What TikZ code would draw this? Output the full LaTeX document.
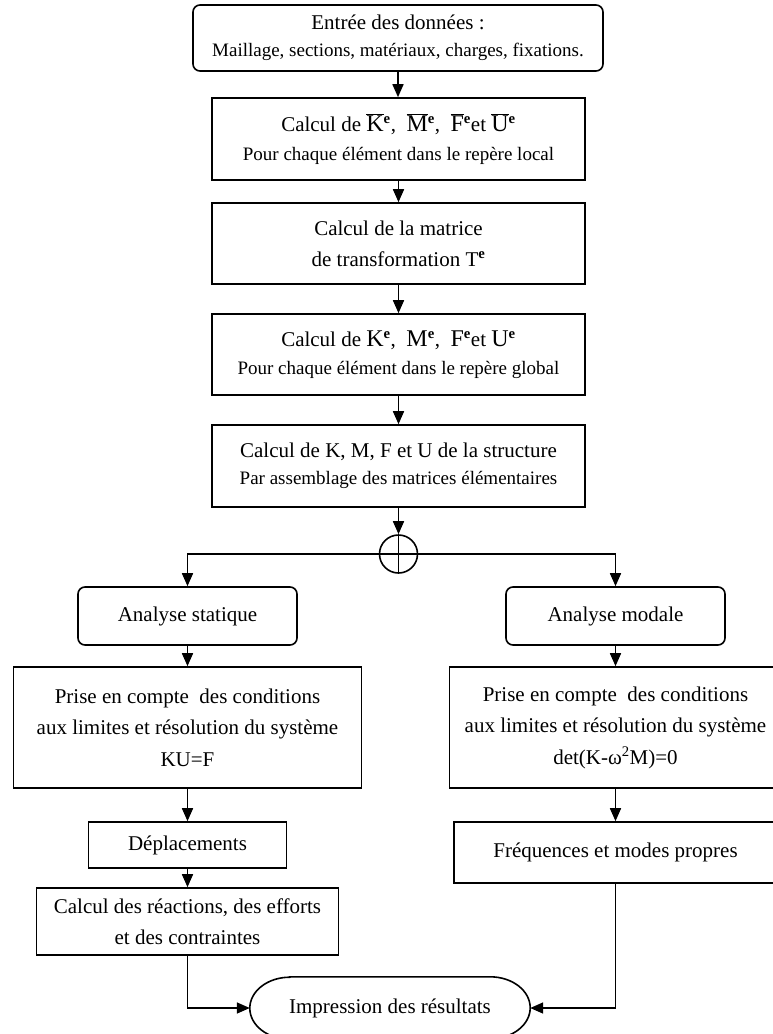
\documentclass[tikz,border=0pt]{standalone}
\usepackage{fontspec}
\setmainfont{Liberation Serif}
\usetikzlibrary{arrows.meta}
\newcommand\ovl[1]{\ensuremath{\overline{\mbox{#1}}}}
\newcommand\smtxt{\fontsize{19}{27}\selectfont}
\newcommand\bigltr{\fontsize{24}{29}\selectfont}
\newcommand\expo{\textsuperscript{\textbf{e}}}
\begin{document}
\begin{tikzpicture}[x=1pt,y=-1pt,
  box/.style={draw, line width=1.6pt, inner sep=0pt, align=center, font=\fontsize{21}{29}\selectfont},
  rbox/.style={box, rounded corners=7pt},
  arr/.style={-{Triangle[length=13pt,width=11pt]}, line width=1.6pt},
  ln/.style={line width=1.6pt}]
\useasboundingbox (0,0) rectangle (773,1034);
\fill[white] (0,0) rectangle (773,1034);

% main column
\node[rbox, minimum width=410pt, minimum height=66pt, font=\fontsize{21}{27}\selectfont] (b1) at (398,38)
  {Entrée des données :\\{\smtxt Maillage, sections, matériaux, charges, fixations.}};
\node[box, minimum width=373pt, minimum height=82pt] (b2) at (398.5,139)
  {Calcul de {\bigltr\ovl{K}}\expo,\ \ {\bigltr\ovl{M}}\expo,\ \ {\bigltr\ovl{F}}\expo et {\bigltr\ovl{U}}\expo\\{\smtxt Pour chaque élément dans le repère local}};
\node[box, minimum width=373pt, minimum height=81pt, font=\fontsize{21}{31}\selectfont] (b3) at (398.5,243.5)
  {Calcul de la matrice\\de transformation T\expo};
\node[box, minimum width=373pt, minimum height=81pt, font=\fontsize{21}{28}\selectfont] (b4) at (398.5,354.5)
  {Calcul de {\bigltr K}\expo,\ \ {\bigltr M}\expo,\ \ {\bigltr F}\expo et {\bigltr U}\expo\\{\smtxt Pour chaque élément dans le repère global}};
\node[box, minimum width=373pt, minimum height=82pt, font=\fontsize{21}{27}\selectfont] (b5) at (398.5,466)
  {Calcul de K, M, F et U de la structure\\{\smtxt Par assemblage des matrices élémentaires}};
\node[draw, circle, line width=1.6pt, minimum size=38pt, inner sep=0pt] (c) at (398.5,554) {};
\draw[ln] (c.north) -- (c.south);
\draw[ln] (c.west) -- (c.east);

% branches
\node[rbox, minimum width=219pt, minimum height=58pt] (as) at (187.5,616) {Analyse statique};
\node[rbox, minimum width=219pt, minimum height=58pt] (am) at (615.5,616) {Analyse modale};
\node[box, minimum width=348pt, minimum height=121pt, font=\fontsize{21}{31.5}\selectfont] (p1) at (187.5,727.5)
  {Prise en compte\ \ des conditions\\aux limites et résolution du système\\KU=F};
\node[box, minimum width=332pt, minimum height=121pt, font=\fontsize{21}{31.5}\selectfont] (p2) at (615.5,727.5)
  {Prise en compte\ \ des conditions\\aux limites et résolution du système\\det(K-ω\textsuperscript{2}M)=0};
\node[box, minimum width=198pt, minimum height=46pt] (dep) at (187.5,845) {Déplacements};
\node[box, minimum width=323pt, minimum height=61pt] (freq) at (615.5,852.5) {Fréquences et modes propres};
\node[box, minimum width=302pt, minimum height=67pt, font=\fontsize{21}{31}\selectfont] (cr) at (187.5,921.5)
  {Calcul des réactions, des efforts\\et des contraintes};
\node[inner sep=0pt, minimum width=280pt, minimum height=62pt, font=\fontsize{21}{29}\selectfont] (imp) at (390,1008)
  {Impression des résultats};
\draw[ln] ([xshift=40pt]imp.north west) -- ([xshift=-40pt]imp.north east)
  arc[start angle=90, end angle=-90, x radius=40pt, y radius=31pt]
  -- ([xshift=40pt]imp.south west)
  arc[start angle=270, end angle=90, x radius=40pt, y radius=31pt] -- cycle;

% connectors
\draw[arr] (b1.south) -- (b1.south |- b2.north);
\draw[arr] (b2.south) -- (b2.south |- b3.north);
\draw[arr] (b3.south) -- (b3.south |- b4.north);
\draw[arr] (b4.south) -- (b4.south |- b5.north);
\draw[arr] (b5.south) -- (c.north);
\draw[arr] (c.west) -| (as.north);
\draw[arr] (c.east) -| (am.north);
\draw[arr] (as.south) -- (p1.north);
\draw[arr] (am.south) -- (p2.north);
\draw[arr] (p1.south) -- (dep.north);
\draw[arr] (p2.south) -- (freq.north);
\draw[arr] (dep.south) -- (cr.north);
\draw[arr] (cr.south) |- (imp.west);
\draw[arr] (freq.south) |- (imp.east);
\end{tikzpicture}
\end{document}
